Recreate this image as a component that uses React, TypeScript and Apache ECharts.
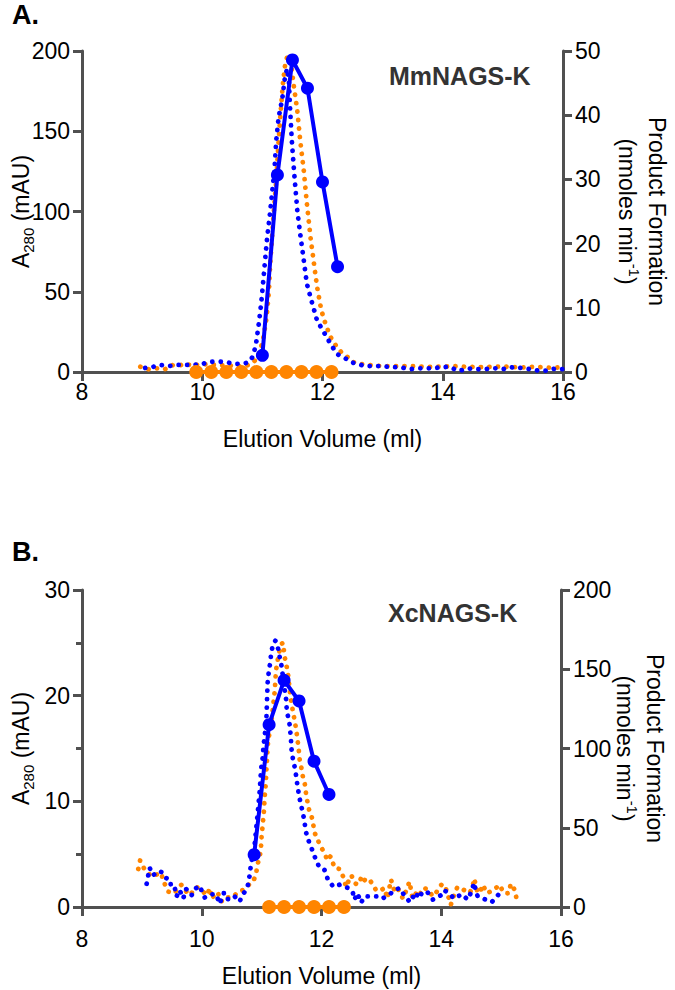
import React, { useEffect, useRef } from "react";
import * as echarts from "echarts";

// ---------- Panel A (MmNAGS-K) ----------
const aOrangeA280: [number, number][] = [
  [8.97, 3.3], [9.11, 1.7], [9.24, 2.3], [9.38, 1.7], [9.49, 4.3], [9.6, 3.7], [9.72, 5.4], [9.83, 3.7],
  [9.97, 5.0], [10.2, 4.5], [10.45, 4.0], [10.69, 3.5], [10.8, 4.8], [10.86, 6.4], [10.94, 10.5],
  [11.01, 19.7], [11.07, 34], [11.11, 51], [11.13, 67], [11.16, 84], [11.19, 100], [11.23, 119],
  [11.26, 138], [11.3, 160], [11.34, 179], [11.38, 192], [11.41, 196], [11.44, 197], [11.47, 194],
  [11.52, 179], [11.58, 163], [11.63, 144], [11.69, 125], [11.74, 105], [11.8, 84], [11.86, 67],
  [11.91, 53], [11.98, 38.5], [12.05, 30], [12.13, 22], [12.24, 15.5], [12.33, 11.6], [12.41, 9.5],
  [12.49, 6.4], [12.63, 5.0], [12.77, 4.4], [13.0, 3.6], [13.4, 3.7], [13.8, 3.2], [14.2, 3.6],
  [14.6, 3.0], [15.0, 3.4], [15.3, 2.8], [15.55, 3.3], [15.8, 2.6], [16.0, 3.0],
];
const aBlueA280: [number, number][] = [
  [9.05, 2.5], [9.16, 3.0], [9.3, 4.4], [9.44, 3.7], [9.58, 4.4], [9.72, 4.4], [9.86, 4.4], [10.0, 5.0],
  [10.12, 6.4], [10.24, 6.4], [10.38, 6.4], [10.52, 5.0], [10.66, 5.0], [10.77, 6.0], [10.83, 9],
  [10.86, 12], [10.9, 19], [10.94, 30], [10.98, 42.6], [11.02, 59], [11.05, 71.6], [11.08, 84],
  [11.12, 96.5], [11.16, 111], [11.2, 125.5], [11.23, 144], [11.27, 158.5], [11.33, 170], [11.37, 182],
  [11.41, 189], [11.44, 182], [11.46, 165], [11.49, 144], [11.53, 123.5], [11.58, 101], [11.62, 88.6],
  [11.68, 72], [11.74, 55], [11.83, 42.6], [11.91, 32], [12.02, 25], [12.13, 17.8], [12.24, 11.2],
  [12.38, 8.5], [12.49, 5.9], [12.6, 5.0], [12.69, 3.7], [12.97, 3.7], [13.16, 3.0], [13.3, 3.0],
  [13.44, 1.7], [13.6, 2.3], [13.8, 2.3], [14.1, 3.3], [14.2, 1.7], [14.27, 0.6], [14.41, 2.3],
  [14.55, 1.7], [14.69, 1.7], [14.83, 2.3], [14.94, 2.3], [15.05, 1.7], [15.19, 3.3], [15.33, 2.3],
  [15.47, 1.7], [15.6, 0.8], [15.74, 0.8], [15.88, 2.3], [16.0, 1.7],
];
const aBlueActX = [11.0, 11.25, 11.5, 11.75, 12.0, 12.25];
const aBlueActY = [2.6, 30.7, 48.6, 44.2, 29.6, 16.4];
const aOrangeActX = [9.9, 10.15, 10.4, 10.65, 10.9, 11.15, 11.4, 11.65, 11.9, 12.15];
const aOrangeActY = [0, 0, 0, 0, 0, 0, 0, 0, 0, 0];

// ---------- Panel B (XcNAGS-K) ----------
const bOrangeA280: [number, number][] = [
  [8.94, 3.6], [8.97, 4.4], [9.05, 3.5], [9.16, 2.9], [9.2, 3.0], [9.33, 3.2], [9.35, 2.4], [9.38, 2.2],
  [9.44, 1.45], [9.55, 1.3], [9.6, 1.8], [9.66, 2.1], [9.72, 1.6], [9.8, 1.1], [9.91, 1.9], [10.0, 1.6],
  [10.08, 1.1], [10.14, 1.8], [10.16, 0.8], [10.27, 1.4], [10.3, 0.6], [10.38, 0.5], [10.44, 0.9],
  [10.52, 0.9], [10.6, 1.4], [10.69, 1.6], [10.74, 1.8], [10.8, 2.2], [10.86, 2.4], [10.91, 3.2],
  [10.93, 4.0], [10.97, 4.8], [10.99, 5.7], [11.0, 6.7], [11.02, 7.9], [11.04, 9.2], [11.05, 10.4],
  [11.07, 11.7], [11.08, 13], [11.09, 13.9], [11.1, 15.2], [11.12, 16.1], [11.14, 16.7], [11.16, 17.4],
  [11.19, 18.9], [11.22, 20.5], [11.23, 21.5], [11.24, 22.4], [11.27, 23.4], [11.3, 24.3], [11.33, 24.9],
  [11.36, 25.0], [11.38, 23.8], [11.41, 23.0], [11.44, 22.1], [11.47, 20.5], [11.49, 19.6], [11.52, 18.6],
  [11.55, 17.7], [11.58, 16.7], [11.6, 15.8], [11.62, 14.9], [11.63, 14.1], [11.66, 13.3], [11.69, 12.3],
  [11.72, 11.7], [11.74, 10.8], [11.77, 9.8], [11.8, 9.0], [11.83, 8.7], [11.86, 7.9], [11.88, 7.1],
  [11.94, 6.3], [11.99, 5.7], [12.05, 5.1], [12.1, 4.4], [12.15, 4.8], [12.22, 3.7], [12.3, 3.6],
  [12.36, 2.9], [12.41, 1.9], [12.47, 2.7], [12.5, 3.0], [12.55, 2.3], [12.6, 2.1], [12.66, 2.7],
  [12.69, 2.3], [12.74, 2.7], [12.8, 2.6], [12.86, 2.1], [12.91, 1.6], [12.97, 1.5], [13.05, 1.8],
  [13.1, 0.8], [13.16, 2.6], [13.22, 1.5], [13.27, 1.8], [13.36, 0.8], [13.41, 1.5], [13.47, 2.4],
  [13.52, 0.8], [13.58, 1.3], [13.63, 1.0], [13.69, 1.8], [13.77, 1.7], [13.86, 1.0], [13.91, 1.3],
  [13.97, 1.9], [14.02, 2.2], [14.08, 1.7], [14.16, 0.2], [14.19, 0.8], [14.27, 1.9], [14.3, 1.8],
  [14.38, 1.6], [14.47, 1.3], [14.52, 1.8], [14.55, 2.7], [14.61, 1.3], [14.66, 1.6], [14.69, 2.1],
  [14.77, 1.3], [14.83, 1.5], [14.88, 1.6], [14.97, 2.1], [15.05, 1.3], [15.13, 1.3], [15.16, 2.2],
  [15.23, 1.6], [15.26, 0.7],
];
const bBlueA280: [number, number][] = [
  [9.08, 2.2], [9.13, 3.7], [9.19, 3.0], [9.27, 3.4], [9.33, 3.3], [9.38, 2.8], [9.47, 2.6], [9.49, 1.8],
  [9.55, 1.8], [9.58, 1.0], [9.63, 1.6], [9.69, 0.8], [9.74, 1.7], [9.83, 1.1], [9.88, 1.7], [9.97, 2.0],
  [10.0, 1.5], [10.05, 0.9], [10.14, 1.2], [10.24, 1.2], [10.3, 0.3], [10.36, 1.3], [10.41, 1.3],
  [10.44, 0.7], [10.5, 0.8], [10.55, 1.0], [10.63, 0.5], [10.69, 1.2], [10.76, 1.8], [10.79, 2.6],
  [10.81, 3.5], [10.83, 4.3], [10.88, 5.7], [10.92, 8], [10.97, 11.1], [10.99, 13], [11.02, 14.2],
  [11.03, 15.2], [11.05, 16.1], [11.08, 17.8], [11.09, 19.6], [11.1, 21.2], [11.12, 22.3], [11.14, 23.0],
  [11.16, 24.0], [11.19, 24.9], [11.23, 25.2], [11.27, 24.6], [11.3, 23.7], [11.33, 22.9], [11.37, 21.2],
  [11.41, 19.6], [11.42, 18.6], [11.47, 17.2], [11.49, 15.8], [11.5, 14.9], [11.52, 14.1], [11.55, 13.3],
  [11.58, 12.3], [11.6, 11.4], [11.63, 10.4], [11.66, 9.6], [11.69, 8.9], [11.72, 7.9], [11.74, 7.1],
  [11.8, 6.0], [11.86, 5.2], [11.91, 4.4], [11.97, 3.7], [12.05, 3.5], [12.1, 2.7], [12.16, 2.2],
  [12.2, 1.9], [12.3, 2.1], [12.38, 1.9], [12.45, 1.8], [12.52, 1.45], [12.55, 0.7], [12.6, 1.3],
  [12.66, 0.4], [12.72, 1.0], [12.8, 1.0], [12.88, 1.0], [12.97, 1.0], [13.02, 0.8], [13.1, 1.1],
  [13.16, 1.3], [13.19, 1.5], [13.27, 1.7], [13.3, 1.8], [13.36, 1.3], [13.47, 0.5], [13.52, 1.0],
  [13.58, 0.7], [13.61, 1.5], [13.69, 1.1], [13.77, 1.4], [13.86, 0.7], [13.91, 0.8], [13.99, 1.1],
  [14.05, 1.6], [14.16, 1.1], [14.22, 0.8], [14.27, 1.0], [14.35, 1.2], [14.44, 0.7], [14.5, 1.4],
  [14.55, 2.3], [14.58, 1.4], [14.61, 1.0], [14.69, 0.8], [14.74, 0.7], [14.8, 0.7], [14.85, 0.5],
  [14.96, 1.2],
];
const bBlueActX = [10.875, 11.125, 11.375, 11.625, 11.875, 12.125];
const bBlueActY = [33, 115, 143, 130, 92, 71];
const bOrangeActX = [11.125, 11.375, 11.625, 11.875, 12.125, 12.375];
const bOrangeActY = [0, 0, 0, 0, 0, 0];

const xTicks = { min: 8, max: 16, interval: 2 };
const panelTitles = ["MmNAGS-K", "XcNAGS-K"];
const panelLetters = ["A.", "B."];

const BLUE = "#0000ff";
const ORANGE = "#ff8500";
const AXIS = "#505050";
const FONT = "Liberation Sans";
const FS = 23;

const pairs = (xs: number[], ys: number[]) => xs.map((x, i) => [x, ys[i]]);

export default function App() {
  const ref = useRef<HTMLDivElement>(null);
  useEffect(() => {
    document.body.style.margin = "0";
    if (!ref.current) return;
    const chart = echarts.init(ref.current, undefined, { renderer: "svg" });

    const lineStyle = { color: AXIS, width: 3 };
    const labelStyle = { fontSize: FS, color: "#000", fontFamily: FONT };
    const richName = {
      t: { fontSize: FS, fontFamily: FONT, color: "#000", lineHeight: 30 },
      s: { fontSize: 15, fontFamily: FONT, color: "#000", lineHeight: 15, verticalAlign: "bottom" },
      sup: { fontSize: 15, fontFamily: FONT, color: "#000", lineHeight: 15, verticalAlign: "top" },
    };

    const xAx = (gridIndex: number, labelMargin: number, nameGap: number) => ({
      type: "value",
      gridIndex,
      ...xTicks,
      axisLine: { show: true, onZero: false, lineStyle },
      axisTick: { show: true, length: 9, lineStyle },
      axisLabel: { ...labelStyle, margin: labelMargin },
      splitLine: { show: false },
      name: "Elution Volume (ml)",
      nameLocation: "middle",
      nameGap,
      nameMoveOverlap: false,
      nameTextStyle: { ...labelStyle },
    });

    const yLeft = (gridIndex: number, max: number, interval: number, minor: boolean) => ({
      type: "value",
      gridIndex,
      position: "left",
      min: 0,
      max,
      interval,
      axisLine: { show: true, onZero: false, lineStyle },
      axisTick: { show: true, length: 9, lineStyle },
      minorTick: { show: minor, splitNumber: 2, length: 6, lineStyle },
      axisLabel: { ...labelStyle, margin: 12 },
      splitLine: { show: false },
      minorSplitLine: { show: false },
      name: "{t|A}{s|280}{t| (mAU)}",
      nameLocation: "middle",
      nameRotate: 90,
      nameGap: 46,
      nameMoveOverlap: false,
      nameTextStyle: { rich: richName },
    });

    const yRight = (gridIndex: number, max: number, interval: number) => ({
      type: "value",
      gridIndex,
      position: "right",
      min: 0,
      max,
      interval,
      axisLine: { show: true, onZero: false, lineStyle },
      axisTick: { show: true, length: 9, lineStyle },
      axisLabel: { ...labelStyle, margin: 12 },
      splitLine: { show: false },
      name: "{t|Product Formation}\n{t|(nmoles min}{sup|-1}{t|)}",
      nameLocation: "middle",
      nameRotate: -90,
      nameGap: 49,
      nameMoveOverlap: false,
      nameTextStyle: { rich: richName, align: "center" },
    });

    const dotted = (data: any, color: string, xi: number, yi: number, z: number) => ({
      type: "line",
      xAxisIndex: xi,
      yAxisIndex: yi,
      data,
      symbol: "none",
      showSymbol: false,
      clip: false,
      silent: true,
      z,
      lineStyle: { color, width: 4.8, type: [0.1, 8.4], cap: "round", join: "round" },
    });

    const solid = (data: any, color: string, xi: number, yi: number, z: number, size: number) => ({
      type: "line",
      xAxisIndex: xi,
      yAxisIndex: yi,
      data,
      symbol: "circle",
      symbolSize: size,
      showSymbol: true,
      clip: false,
      silent: true,
      z,
      itemStyle: { color },
      lineStyle: { color, width: 4 },
    });

    const titleText = (text: string, x: number, y: number, size: number, fill: string) => ({
      type: "text",
      x,
      y,
      silent: true,
      style: {
        text,
        fontSize: size,
        fontWeight: "bold",
        fontFamily: FONT,
        fill,
        textAlign: "left",
        verticalAlign: "middle",
      },
    });

    chart.setOption({
      animation: false,
      backgroundColor: "#fff",
      grid: [
        { left: 82, top: 51, width: 481, height: 321, outerBoundsMode: "none" },
        { left: 82, top: 590, width: 479, height: 317, outerBoundsMode: "none" },
      ],
      xAxis: [xAx(0, 8, 55), xAx(1, 20, 57)],
      yAxis: [yLeft(0, 200, 50, false), yRight(0, 50, 10), yLeft(1, 30, 10, true), yRight(1, 200, 50)],
      series: [
        dotted(aOrangeA280, ORANGE, 0, 0, 2),
        dotted(aBlueA280, BLUE, 0, 0, 3),
        solid(pairs(aBlueActX, aBlueActY), BLUE, 0, 1, 4, 13),
        solid(pairs(aOrangeActX, aOrangeActY), ORANGE, 0, 1, 5, 14),
        dotted(bOrangeA280, ORANGE, 1, 2, 2),
        dotted(bBlueA280, BLUE, 1, 2, 3),
        solid(pairs(bBlueActX, bBlueActY), BLUE, 1, 3, 4, 13),
        solid(pairs(bOrangeActX, bOrangeActY), ORANGE, 1, 3, 5, 14),
      ],
      graphic: [
        titleText(panelLetters[0], 12, 15, 27, "#000"),
        titleText(panelLetters[1], 12, 552, 27, "#000"),
        titleText(panelTitles[0], 389, 76, 25, "#333"),
        titleText(panelTitles[1], 388, 613, 25, "#333"),
      ],
    });
    return () => chart.dispose();
  }, []);
  return <div ref={ref} style={{ width: 675, height: 990, position: "absolute", left: 0, top: 0 }} />;
}
